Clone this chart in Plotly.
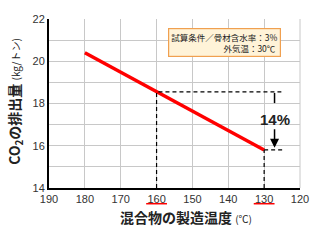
import plotly.graph_objects as go

# Data
temps = [180, 130]
co2 = [20.4, 15.8]
ref_temp = 160
ref_co2 = 18.55
end_temp = 130
end_co2 = 15.8
dash_end_temp = 125.2
arrow_temp = 127.1
reduction_label = "14%"
x_ticks = [190, 180, 170, 160, 150, 140, 130, 120]
y_ticks = [14, 16, 18, 20, 22]
note_lines = ["試算条件／骨材含水率：3%", "外気温：30℃"]
x_title = "混合物の製造温度"
x_unit = "(℃)"
y_title = "CO<sub>2</sub>の排出量"
y_unit = "(kg/トン)"

jp = "Noto Sans CJK JP"
num = "Liberation Sans"

fig = go.Figure()

# main line
fig.add_trace(go.Scatter(x=temps, y=co2, mode="lines",
                         line=dict(color="#ff0000", width=3.5), hoverinfo="skip"))
# dashed guides
dash = dict(color="black", width=1.2, dash="4px,3px")
fig.add_trace(go.Scatter(x=[ref_temp, ref_temp, dash_end_temp], y=[14, ref_co2, ref_co2],
                         mode="lines", line=dash, hoverinfo="skip"))
fig.add_trace(go.Scatter(x=[end_temp, end_temp], y=[14, end_co2],
                         mode="lines", line=dash, hoverinfo="skip"))
fig.add_trace(go.Scatter(x=[end_temp, dash_end_temp - 0.3], y=[end_co2, end_co2],
                         mode="lines", line=dash, hoverinfo="skip"))
# small solid tick under top dashed line
fig.add_trace(go.Scatter(x=[arrow_temp, arrow_temp], y=[ref_co2 - 0.05, 18.02],
                         mode="lines", line=dict(color="black", width=1.5), hoverinfo="skip"))

fig.add_annotation(x=arrow_temp, y=end_co2 + 0.1, ax=arrow_temp, ay=16.85,
                   xref="x", yref="y", axref="x", ayref="y",
                   showarrow=True, arrowhead=2, arrowsize=1.2, arrowwidth=1.5,
                   arrowcolor="black", text="")
fig.add_annotation(x=arrow_temp, y=17.22, xref="x", yref="y", text="<b>%s</b>" % reduction_label,
                   showarrow=False, font=dict(family=num, size=15, color="#222"))

# note box
fig.add_annotation(x=0.925, y=0.945, xref="paper", yref="paper", xanchor="right", yanchor="top",
                   text=note_lines[0] + "<br>" + note_lines[1] + " ",
                   align="right", showarrow=False,
                   font=dict(family=jp, size=8.5, color="#222"),
                   bgcolor="#fff3d8", bordercolor="#f0a050", borderwidth=1.2, borderpad=2)

# axis titles
fig.add_annotation(x=0.275, y=-0.172, xref="paper", yref="paper", xanchor="left", yanchor="middle",
                   text="<b>%s</b> <span style='font-size:10px'>%s</span>" % (x_title, x_unit),
                   showarrow=False, font=dict(family=jp, size=14, color="#222"))
fig.add_annotation(x=-0.136, y=0.515, xref="paper", yref="paper", xanchor="center", yanchor="middle",
                   textangle=-90,
                   text="<b>%s</b> <span style='font-size:10px'>%s</span>" % (y_title, y_unit),
                   showarrow=False, font=dict(family=jp, size=14, color="#222"))

# red underlines beneath highlighted tick labels
for t in [ref_temp, end_temp]:
    fig.add_shape(type="line", xref="x", yref="paper", x0=t + 2.9, x1=t - 2.9,
                  y0=-0.093, y1=-0.093, line=dict(color="#ff0000", width=1.5))

fig.update_layout(
    width=321, height=241,
    margin=dict(l=49, r=14, t=19, b=53),
    paper_bgcolor="white", plot_bgcolor="white",
    showlegend=False,
    xaxis=dict(range=[190, 120], tickvals=x_ticks, showgrid=True, gridcolor="#c8c8c8", gridwidth=1,
               showline=True, linecolor="black", linewidth=2, zeroline=False,
               tickfont=dict(family=num, size=11, color="#333"), ticks=""),
    yaxis=dict(range=[14, 22], tickvals=y_ticks, showgrid=True, gridcolor="#c8c8c8", gridwidth=1,
               minor=dict(dtick=1, showgrid=True, gridcolor="#c8c8c8", gridwidth=1),
               showline=True, linecolor="black", linewidth=2, zeroline=False,
               tickfont=dict(family=num, size=11, color="#333"), ticks=""),
)
fig.add_shape(type="line", xref="paper", yref="paper", x0=1, x1=1, y0=0, y1=1,
              line=dict(color="#c8c8c8", width=1), layer="below")

fig.write_html("out.html")
